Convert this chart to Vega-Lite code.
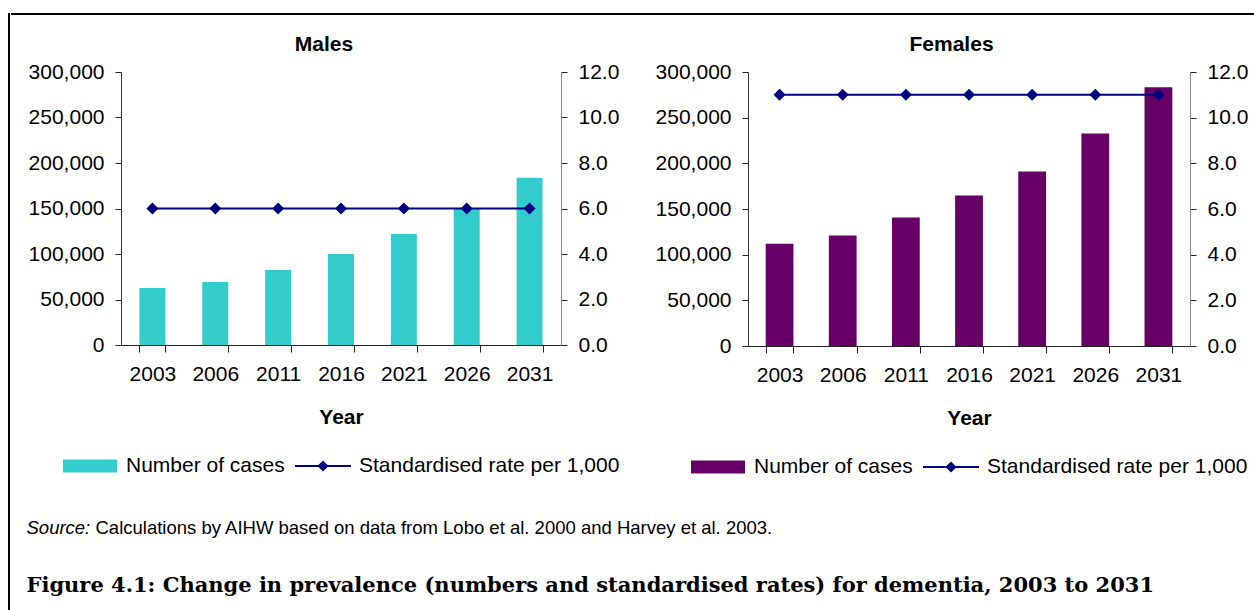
{
  "$schema": "https://vega.github.io/schema/vega-lite/v6.json",
  "background": "white",
  "padding": {"left": 8, "top": 13, "right": 0, "bottom": 0},
  "spacing": 0,
  "align": "none",
  "config": {
    "font": "Liberation Sans",
    "view": {"stroke": null},
    "axis": {
      "labelFont": "Liberation Sans", "labelFontSize": 21, "labelColor": "black",
      "titleFont": "Liberation Sans", "titleFontSize": 21, "titleFontWeight": "bold", "titleColor": "black",
      "grid": false, "tickSize": 6, "tickColor": "#222", "domainColor": "#333"
    },
    "legend": {
      "labelFont": "Liberation Sans", "labelFontSize": 21, "labelColor": "black", "labelLimit": 400,
      "layout": {"bottom": {"anchor": "middle"}}
    },
    "title": {"font": "Liberation Sans", "fontSize": 21, "fontWeight": "bold", "color": "black"}
  },
  "datasets": {
    "males": [
      {"year": "2003", "cases": 62700, "rate": 6.0},
      {"year": "2006", "cases": 69300, "rate": 6.0},
      {"year": "2011", "cases": 82500, "rate": 6.0},
      {"year": "2016", "cases": 100100, "rate": 6.0},
      {"year": "2021", "cases": 122100, "rate": 6.0},
      {"year": "2026", "cases": 150500, "rate": 6.0},
      {"year": "2031", "cases": 183700, "rate": 6.0}
    ],
    "females": [
      {"year": "2003", "cases": 111900, "rate": 11.0},
      {"year": "2006", "cases": 121000, "rate": 11.0},
      {"year": "2011", "cases": 140700, "rate": 11.0},
      {"year": "2016", "cases": 164800, "rate": 11.0},
      {"year": "2021", "cases": 191000, "rate": 11.0},
      {"year": "2026", "cases": 232600, "rate": 11.0},
      {"year": "2031", "cases": 283300, "rate": 11.0}
    ],
    "source1": [{"t": "Source:"}],
    "source2": [{"t": "Calculations by AIHW based on data from Lobo et al. 2000 and Harvey et al. 2003."}],
    "caption": [{"t": "Figure 4.1: Change in prevalence (numbers and standardised rates) for dementia, 2003 to 2031"}],
    "empty": []
  },
  "concat": [
    {
      "width": 0.01, "height": 620,
      "data": {"name": "empty"},
      "mark": "point",
      "view": {"stroke": "black", "strokeWidth": 2}
    },
    {
      "columns": 1,
      "align": "none",
      "spacing": 18,
      "concat": [
        {
          "width": 1250, "height": 0.01,
          "data": {"name": "empty"},
          "mark": "point",
          "view": {"stroke": "black", "strokeWidth": 2}
        },
        {
          "columns": 1,
          "align": "none",
          "spacing": 40,
          "concat": [
            {
              "align": "none",
              "spacing": 15,
              "concat": [
                {
                  "width": 0.01, "height": 1,
                  "data": {"name": "empty"},
                  "mark": "point",
                  "view": {"stroke": "transparent", "strokeWidth": 0.01}
                },
                {
                  "spacing": 35,
                  "resolve": {"scale": {"color": "independent"}, "legend": {"color": "independent"}},
                  "hconcat": [
                    {
                      "width": 440, "height": 273,
                      "title": {"text": "Males", "anchor": "middle", "frame": "bounds", "offset": 6},
                      "data": {"name": "males"},
                      "encoding": {
                        "x": {
                          "field": "year", "type": "ordinal",
                          "scale": {"paddingInner": 0.587, "paddingOuter": 0.2935},
                          "axis": {"title": "Year", "labelAngle": 0, "tickBand": "extent", "labelPadding": 11, "titlePadding": 22, "tickSize": 7, "domainColor": "#222"}
                        }
                      },
                      "layer": [
                        {
                          "mark": {"type": "bar"},
                          "encoding": {
                            "y": {
                              "field": "cases", "type": "quantitative",
                              "scale": {"domain": [0, 300000]},
                              "axis": {"title": null, "orient": "left", "values": [0, 50000, 100000, 150000, 200000, 250000, 300000], "format": ",.0f", "labelPadding": 11}
                            },
                            "color": {
                              "datum": "Number of cases", "type": "nominal",
                              "scale": {"domain": ["Number of cases", "Standardised rate per 1,000"], "range": ["#33CCCC", "#000080"]},
                              "legend": {
                                "title": null, "orient": "bottom", "direction": "horizontal",
                                "symbolSize": 3136, "labelOffset": 8, "columnPadding": 10, "offset": 11,
                                "encode": {"symbols": {"update": {
                                  "shape": {"signal": "datum.value == 'Number of cases' ? 'M-0.964,-0.232H0.964V0.232H-0.964Z' : 'M-1,-0.036H1V0.036H-1Z M0,-0.2L0.2,0L0,0.2L-0.2,0Z'"},
                                  "fill": {"signal": "datum.value == 'Number of cases' ? '#33CCCC' : '#000080'"},
                                  "strokeWidth": {"value": 0},
                                  "opacity": {"value": 1}
                                }}}
                              }
                            }
                          }
                        },
                        {
                          "mark": {"type": "line", "strokeWidth": 2, "point": {"shape": "diamond", "size": 144, "filled": true}},
                          "encoding": {
                            "y": {
                              "field": "rate", "type": "quantitative",
                              "scale": {"domain": [0, 12]},
                              "axis": {"title": null, "orient": "right", "values": [0, 2, 4, 6, 8, 10, 12], "format": ".1f", "labelPadding": 11, "domainColor": "#888"}
                            },
                            "color": {"datum": "Standardised rate per 1,000", "type": "nominal"}
                          }
                        }
                      ],
                      "resolve": {"scale": {"y": "independent"}}
                    },
                    {
                      "width": 442, "height": 274,
                      "title": {"text": "Females", "anchor": "middle", "frame": "bounds", "offset": 6},
                      "data": {"name": "females"},
                      "encoding": {
                        "x": {
                          "field": "year", "type": "ordinal",
                          "scale": {"paddingInner": 0.56, "paddingOuter": 0.28},
                          "axis": {"title": "Year", "labelAngle": 0, "tickBand": "extent", "labelPadding": 11, "titlePadding": 22, "tickSize": 7, "domainColor": "#222"}
                        }
                      },
                      "layer": [
                        {
                          "mark": {"type": "bar"},
                          "encoding": {
                            "y": {
                              "field": "cases", "type": "quantitative",
                              "scale": {"domain": [0, 300000]},
                              "axis": {"title": null, "orient": "left", "values": [0, 50000, 100000, 150000, 200000, 250000, 300000], "format": ",.0f", "labelPadding": 11}
                            },
                            "color": {
                              "datum": "Number of cases", "type": "nominal",
                              "scale": {"domain": ["Number of cases", "Standardised rate per 1,000"], "range": ["#660066", "#000080"]},
                              "legend": {
                                "title": null, "orient": "bottom", "direction": "horizontal",
                                "symbolSize": 3136, "labelOffset": 8, "columnPadding": 10, "offset": 11,
                                "encode": {"symbols": {"update": {
                                  "shape": {"signal": "datum.value == 'Number of cases' ? 'M-0.964,-0.232H0.964V0.232H-0.964Z' : 'M-1,-0.036H1V0.036H-1Z M0,-0.2L0.2,0L0,0.2L-0.2,0Z'"},
                                  "fill": {"signal": "datum.value == 'Number of cases' ? '#660066' : '#000080'"},
                                  "strokeWidth": {"value": 0},
                                  "opacity": {"value": 1}
                                }}}
                              }
                            }
                          }
                        },
                        {
                          "mark": {"type": "line", "strokeWidth": 2, "point": {"shape": "diamond", "size": 144, "filled": true}},
                          "encoding": {
                            "y": {
                              "field": "rate", "type": "quantitative",
                              "scale": {"domain": [0, 12]},
                              "axis": {"title": null, "orient": "right", "values": [0, 2, 4, 6, 8, 10, 12], "format": ".1f", "labelPadding": 11, "domainColor": "#888"}
                            },
                            "color": {"datum": "Standardised rate per 1,000", "type": "nominal"}
                          }
                        }
                      ],
                      "resolve": {"scale": {"y": "independent"}}
                    }
                  ]
                }
              ]
            },
            {
              "columns": 1,
              "align": "none",
              "spacing": 35,
              "concat": [
                {
                  "align": "none",
                  "spacing": 13,
                  "concat": [
                    {
                      "width": 0.01, "height": 1,
                      "data": {"name": "empty"},
                      "mark": "point",
                      "view": {"stroke": "transparent", "strokeWidth": 0.01}
                    },
                    {
                      "align": "none",
                      "spacing": 4,
                      "concat": [
                        {
                          "width": 1, "height": 20,
                          "data": {"name": "source1"},
                          "mark": {"type": "text", "align": "left", "baseline": "middle", "fontSize": 18.5, "fontStyle": "italic", "font": "Liberation Sans", "color": "black"},
                          "encoding": {"text": {"field": "t", "type": "nominal"}}
                        },
                        {
                          "width": 1, "height": 20,
                          "data": {"name": "source2"},
                          "mark": {"type": "text", "align": "left", "baseline": "middle", "fontSize": 18.5, "font": "Liberation Sans", "color": "black"},
                          "encoding": {"text": {"field": "t", "type": "nominal"}}
                        }
                      ]
                    }
                  ]
                },
                {
                  "align": "none",
                  "spacing": 13,
                  "concat": [
                    {
                      "width": 0.01, "height": 1,
                      "data": {"name": "empty"},
                      "mark": "point",
                      "view": {"stroke": "transparent", "strokeWidth": 0.01}
                    },
                    {
                      "width": 1, "height": 24,
                      "data": {"name": "caption"},
                      "mark": {"type": "text", "align": "left", "baseline": "middle", "fontSize": 21, "fontWeight": "bold", "font": "DejaVu Serif", "color": "black"},
                      "encoding": {"text": {"field": "t", "type": "nominal"}}
                    }
                  ]
                }
              ]
            }
          ]
        }
      ]
    }
  ]
}
